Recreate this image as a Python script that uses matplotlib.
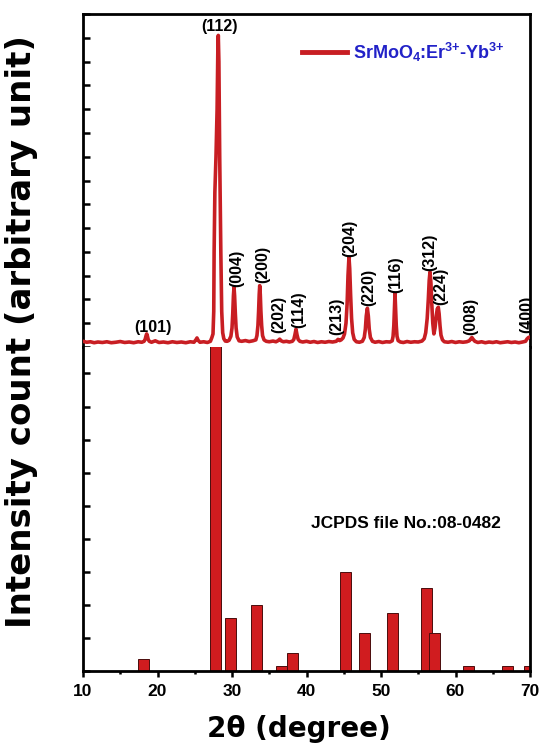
import matplotlib
matplotlib.use("Agg")
import matplotlib.pyplot as plt
from matplotlib.lines import Line2D
from matplotlib.ticker import MultipleLocator

plt.rcParams['font.family'] = ['Liberation Sans', 'DejaVu Sans']
plt.rcParams['font.weight'] = 'bold'
plt.rcParams['mathtext.fontset'] = 'custom'
plt.rcParams['mathtext.rm'] = 'Liberation Sans:bold'
plt.rcParams['mathtext.it'] = 'Liberation Sans:bold'
plt.rcParams['mathtext.bf'] = 'Liberation Sans:bold'
plt.rcParams['mathtext.default'] = 'rm'

# ---------------- data ----------------
# measured XRD pattern (2theta in degree, intensity in arbitrary units)
xrd_2theta = [
    10.0, 10.5, 11.0, 11.5, 12.0, 12.6, 13.2, 13.8, 14.4, 15.0, 15.6, 16.2, 16.8, 17.4, 17.9,
    18.2, 18.35, 18.47, 18.55, 18.63, 18.75, 18.9, 19.2, 19.7, 20.2, 20.8, 21.4, 22.0, 22.6,
    23.2, 23.8, 24.4, 24.9, 25.15, 25.3, 25.45, 25.7, 26.2, 26.7, 27.1,
    27.3, 27.45, 27.55, 27.6, 27.7, 27.85, 28.0, 28.1, 28.16, 28.24, 28.35, 28.5, 28.62, 28.75,
    28.9, 29.1, 29.35, 29.6, 29.85, 30.0, 30.1, 30.19, 30.27, 30.35, 30.45, 30.55, 30.7, 30.95,
    31.3, 31.8, 32.3, 32.8, 33.2, 33.35, 33.48, 33.57, 33.65, 33.72, 33.8, 33.88, 33.98, 34.1,
    34.3, 34.6, 35.0, 35.5, 35.9, 36.2, 36.4, 36.6, 36.9, 37.3, 37.7, 38.1, 38.3, 38.45, 38.59,
    38.72, 38.88, 39.1, 39.5, 40.0, 40.5, 41.0, 41.5, 42.0, 42.5, 43.0, 43.5, 44.0, 44.23, 44.45,
    44.65, 44.9, 45.1, 45.3, 45.45, 45.57, 45.7, 45.8, 45.92, 46.05, 46.2, 46.4, 46.7, 47.1,
    47.5, 47.75, 47.9, 48.02, 48.17, 48.3, 48.42, 48.58, 48.85, 49.2, 49.7, 50.2, 50.7, 51.2,
    51.5, 51.62, 51.72, 51.8, 51.88, 51.96, 52.05, 52.15, 52.3, 52.6, 53.0, 53.5, 54.0, 54.5,
    55.0, 55.5, 55.8, 56.0, 56.2, 56.35, 56.47, 56.58, 56.7, 56.82, 56.95, 57.1, 57.25, 57.42,
    57.55, 57.69, 57.8, 57.92, 58.05, 58.25, 58.5, 59.0, 59.5, 60.0, 60.5, 61.0, 61.5, 61.85,
    62.05, 62.2, 62.35, 62.6, 63.0, 63.5, 64.0, 64.5, 65.0, 65.5, 66.0, 66.5, 67.0, 67.5, 68.0,
    68.5, 69.0, 69.4, 69.6, 69.8, 70.0]
xrd_intensity = [
    24, 20, 22, 18, 21, 19, 22, 18, 20, 23, 19, 21, 18, 22, 20,
    24, 33, 48, 55, 48, 32, 24, 20, 26, 19, 21, 18, 22, 19,
    21, 18, 22, 20, 30, 38, 28, 20, 22, 19, 24,
    40, 55, 150, 400, 650, 800, 1000, 1250, 1310, 1200, 800, 400, 150, 60,
    35, 25, 24, 28, 45, 80, 140, 215, 252, 215, 140, 80, 42, 26,
    24, 27, 23, 26, 30, 48, 90, 150, 220, 258, 220, 150, 90, 48,
    30, 24, 22, 25, 22, 27, 33, 26, 22, 24, 21, 24, 32, 52, 75,
    52, 32, 24, 21, 24, 20, 23, 19, 22, 20, 23, 21, 24, 32, 27,
    30, 38, 55, 100, 180, 300, 378, 330, 220, 120, 60, 32, 22, 20,
    24, 40, 75, 130, 163, 130, 75, 40, 24, 20, 23, 19, 22, 21,
    26, 45, 90, 160, 225, 160, 90, 45, 27, 21, 19, 23, 20, 22,
    21, 25, 35, 60, 120, 200, 280, 316, 270, 180, 100, 55, 80, 130,
    160, 167, 140, 90, 50, 30, 22, 20, 23, 19, 22, 20, 22, 26,
    34, 40, 33, 24, 19, 22, 18, 21, 19, 22, 18, 20, 22, 19, 21,
    18, 21, 24, 34, 40, 42]

# JCPDS file No. 08-0482 reference lines (2theta, relative intensity %)
jcpds_2theta = [18.12, 27.79, 29.80, 33.29, 36.64, 38.15, 45.23, 47.79, 51.54, 56.11, 57.18,
                61.74, 66.98, 69.93]
jcpds_intensity = [3.6, 100, 16, 20, 1.5, 5.5, 30, 11.5, 17.5, 25, 11.5, 1.5, 1.5, 1.5]

# Miller indices annotations
hkl_labels = ['(101)', '(112)', '(004)', '(200)', '(202)', '(114)', '(213)', '(204)', '(220)',
              '(116)', '(312)', '(224)', '(008)', '(400)']

x_ticks = [10, 20, 30, 40, 50, 60, 70]
legend_label = r'SrMoO$_4$:Er$^{3{+}}$-Yb$^{3{+}}$'
ref_label = 'JCPDS file No.:08-0482'

# ---------------- style / layout ----------------
RED = '#c81e23'
BAR = '#d01c1f'
BLUE = '#2222c8'
W, H = 540, 749
fig = plt.figure(figsize=(W / 100, H / 100), dpi=100)
left, right = 83 / W, 530 / W
ax_top = fig.add_axes([left, 1 - 347 / H, right - left, 333 / H])
ax_bot = fig.add_axes([left, 1 - 671 / H, right - left, 324 / H], sharex=ax_top)
ax_top.patch.set_alpha(0)

# bars (reference)
ax_bot.bar(jcpds_2theta, jcpds_intensity, width=1.48, color=BAR, edgecolor='#4a0c0c',
           linewidth=0.7, zorder=2)
ax_bot.set_ylim(0, 98)
ax_bot.set_xlim(10, 70)

# XRD line
ax_top.plot(xrd_2theta, xrd_intensity, color=RED, lw=2.6, solid_joinstyle='round', zorder=3)
ax_top.set_ylim(0, 1400)

# spines / ticks
for ax in (ax_top, ax_bot):
    for s in ax.spines.values():
        s.set_linewidth(2.0)
    ax.tick_params(axis='y', which='both', direction='in', left=True, right=False,
                   labelleft=False, length=5, width=1.8)
ax_top.spines['bottom'].set_visible(False)
ax_bot.spines['top'].set_visible(False)
ax_top.yaxis.set_major_locator(MultipleLocator(100))
ax_bot.yaxis.set_major_locator(MultipleLocator(10))
ax_top.tick_params(axis='x', which='both', bottom=False, top=False, labelbottom=False)

ax_bot.set_xticks(x_ticks)
ax_bot.xaxis.set_minor_locator(MultipleLocator(5))
ax_bot.tick_params(axis='x', which='major', direction='out', length=4, width=1.8,
                   labelsize=12.5, pad=5, top=False)
ax_bot.tick_params(axis='x', which='minor', direction='out', length=2.5, width=1.8, top=False)
for t in ax_bot.get_xticklabels():
    t.set_fontweight('bold')

# hkl annotations: (x, y, rotation)
hkl_pos = [(19.4, 50, 0), (28.26, 1318, 0), (30.63, 252, 90), (34.12, 269, 90),
           (36.21, 59, 90), (38.9, 80, 90), (44.05, 50, 90), (45.74, 378, 90),
           (48.3, 172, 90), (52.01, 227, 90), (56.58, 319, 90), (58.01, 176, 90),
           (62.04, 50, 90), (69.5, 59, 90)]
for lab, (x, y, rot) in zip(hkl_labels, hkl_pos):
    ax_top.text(x, y, lab, rotation=rot, ha='center', va='bottom', fontsize=11.5,
                fontweight='bold', color='black', clip_on=True, zorder=4)

# legend
handle = Line2D([], [], color=RED, lw=3.5)
leg = ax_top.legend([handle], [legend_label], loc='center left',
                    bbox_to_anchor=((302 - 83) / 447, (347 - 52) / 333), frameon=False,
                    borderpad=0, borderaxespad=0, handlelength=2.5, handletextpad=0.3,
                    prop={'weight': 'bold', 'size': 13}, labelcolor=BLUE)

ax_bot.text((405.5 - 83) / 447, (671 - 523) / 324, ref_label, transform=ax_bot.transAxes,
            ha='center', va='center', fontsize=12.5, fontweight='bold', color='black')

# axis labels
fig.text(22 / W, 1 - 332 / H, 'Intensity count (arbitrary unit)', rotation=90,
         ha='center', va='center', fontsize=24.5, fontweight='bold', family='DejaVu Sans')
fig.text(299 / W, 1 - 729 / H, '2θ (degree)', ha='center', va='center', fontsize=20,
         fontweight='bold', family='DejaVu Sans')

fig.savefig('out.png', dpi=100)
